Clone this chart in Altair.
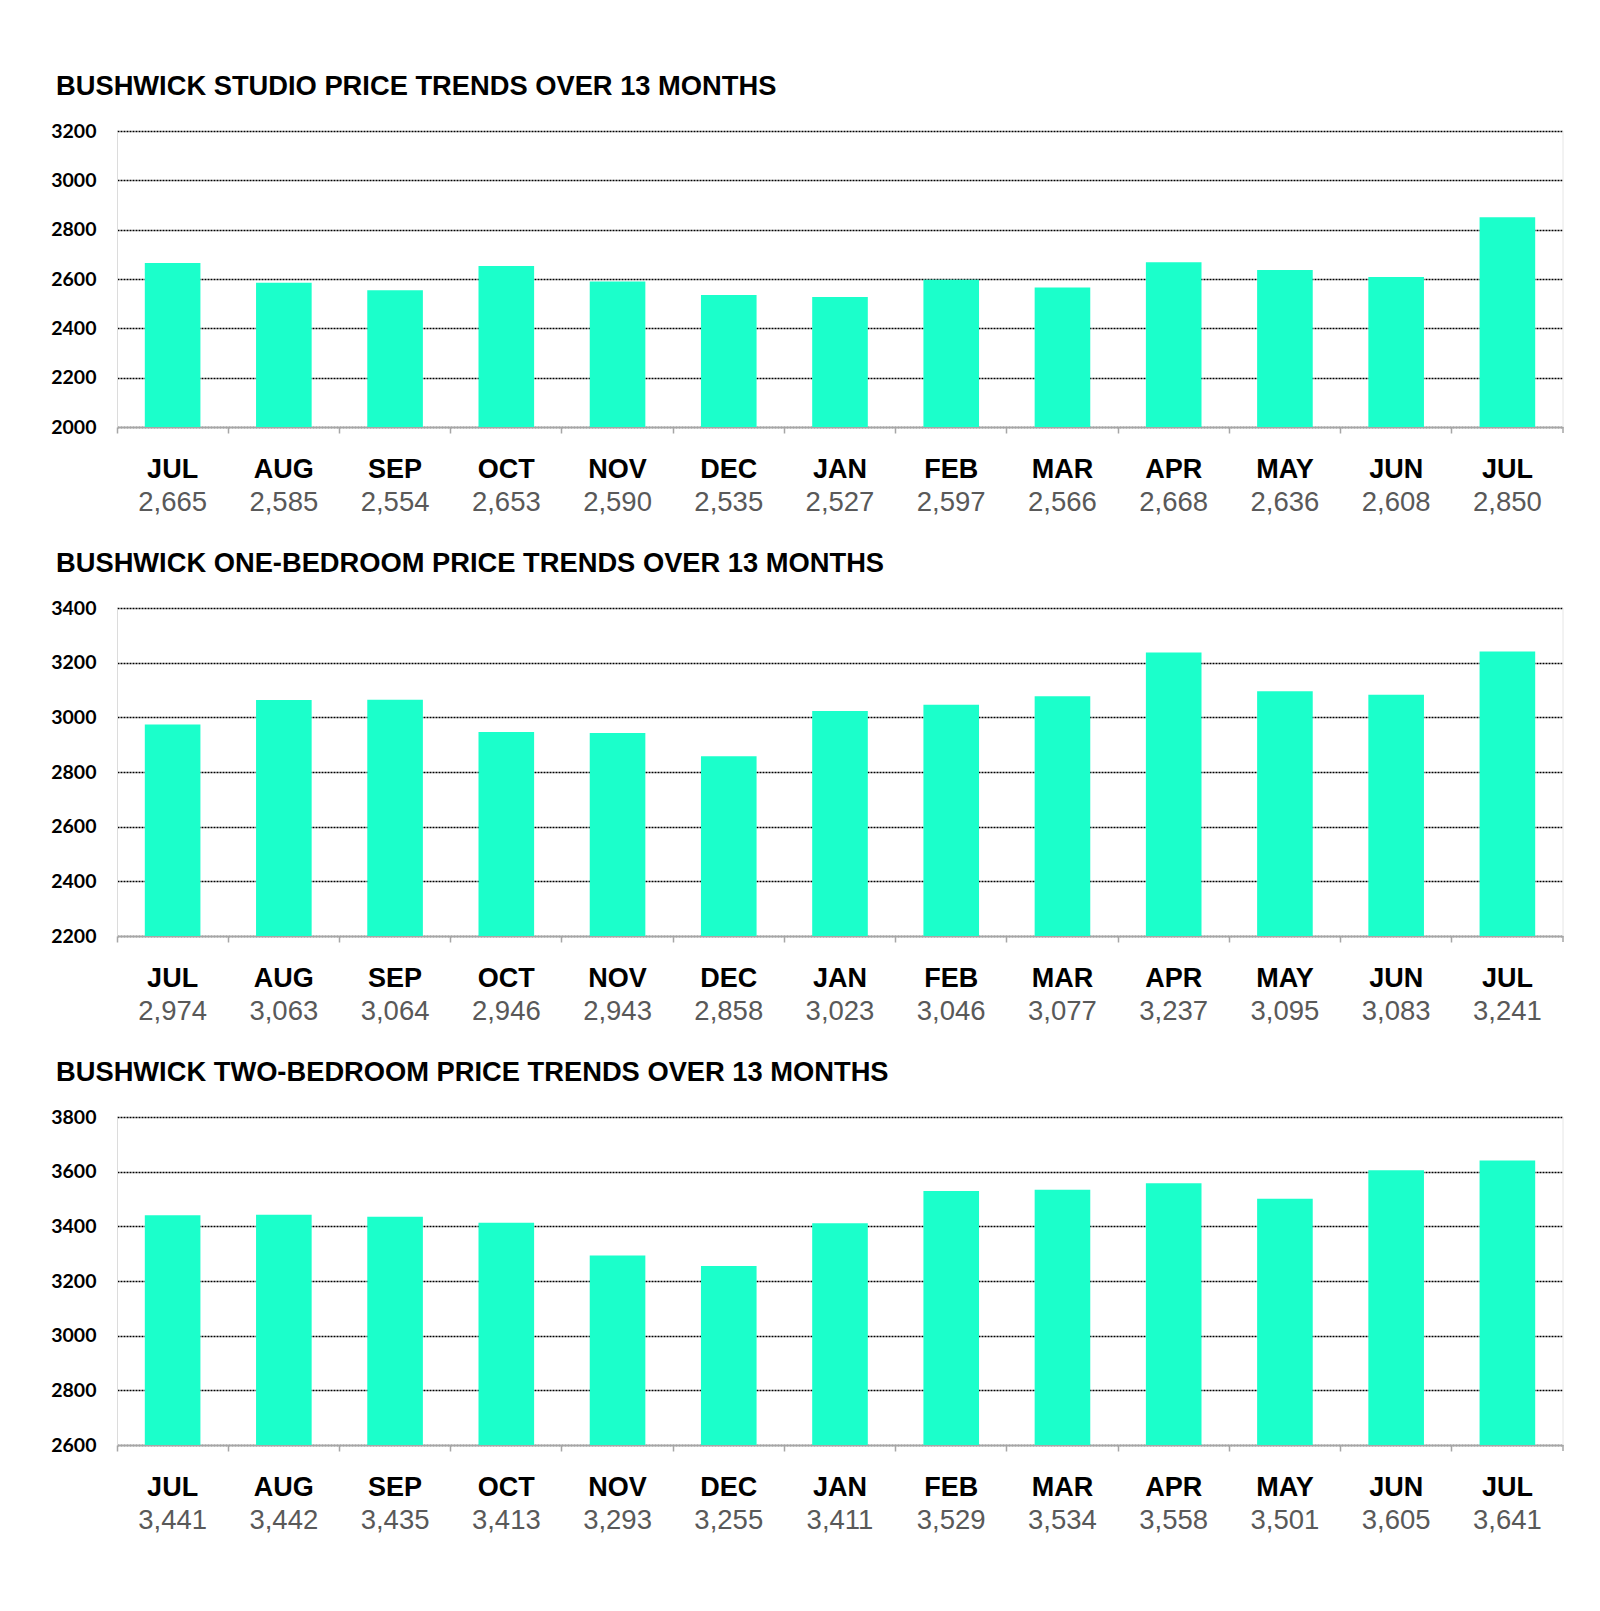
import altair as alt
import pandas as pd

months = ["JUL", "AUG", "SEP", "OCT", "NOV", "DEC", "JAN", "FEB", "MAR", "APR", "MAY", "JUN", "JUL"]
studio = [2665, 2585, 2554, 2653, 2590, 2535, 2527, 2597, 2566, 2668, 2636, 2608, 2850]
one_bed = [2974, 3063, 3064, 2946, 2943, 2858, 3023, 3046, 3077, 3237, 3095, 3083, 3241]
two_bed = [3441, 3442, 3435, 3413, 3293, 3255, 3411, 3529, 3534, 3558, 3501, 3605, 3641]

titles = [
    "BUSHWICK STUDIO PRICE TRENDS OVER 13 MONTHS",
    "BUSHWICK ONE-BEDROOM PRICE TRENDS OVER 13 MONTHS",
    "BUSHWICK TWO-BEDROOM PRICE TRENDS OVER 13 MONTHS",
]
y_domains = [[2000, 3200], [2200, 3400], [2600, 3800]]
heights = [296, 328, 328]

W = 1446
BAR = "#1BFFCB"
keys = [f"{m}_{i}" for i, m in enumerate(months)]


def panel(values, title, dom, h):
    df = pd.DataFrame({"key": keys, "month": months, "value": values})
    x = alt.X("key:N", sort=keys, scale=alt.Scale(paddingInner=0, paddingOuter=0),
              axis=alt.Axis(labels=False, title=None, grid=False, bandPosition=0,
                            domainColor="#a6a6a6", domainWidth=1.5,
                            tickColor="#a6a6a6", tickSize=6, tickWidth=1.5))
    ticks = list(range(dom[0], dom[1] + 1, 200))
    y = alt.Y("value:Q", scale=alt.Scale(domain=dom, nice=False, zero=False),
              axis=alt.Axis(values=ticks, title=None, ticks=False, format="d",
                            domainColor="#dcdcdc", domainWidth=1,
                            labelFont="Lato", labelFontWeight="bold", labelFontSize=19.5,
                            labelColor="#000000", labelPadding=21,
                            grid=True, gridColor="#000000", gridDash=[2, 1], gridWidth=1.3))
    base = alt.Chart(df)
    bars = base.mark_bar(color=BAR, width=alt.RelativeBandSize(0.5), clip=True).encode(x=x, y=y)
    mlab = base.mark_text(font="Liberation Sans", fontWeight="bold", fontSize=27,
                          color="#000000", baseline="middle").encode(
        x=alt.X("key:N", sort=keys), y=alt.value(h + 43), text="month:N")
    vlab = base.mark_text(font="Liberation Sans", fontSize=27.5,
                          color="#595959", baseline="middle").encode(
        x=alt.X("key:N", sort=keys), y=alt.value(h + 76), text=alt.Text("value:Q", format=","))
    tdf = pd.DataFrame({"t": [title]})
    ttl = alt.Chart(tdf).mark_text(font="Liberation Sans", fontWeight="bold", fontSize=27.3,
                                   color="#000000", align="left", baseline="alphabetic").encode(
        x=alt.value(-61), y=alt.value(-35.7), text="t:N")
    edge = alt.Chart(tdf).mark_rule(color="#e6e6e6", strokeWidth=1).encode(
        x=alt.value(W), y=alt.value(0), y2=alt.value(h))
    endtick = alt.Chart(tdf).mark_rule(color="#a6a6a6", strokeWidth=1.5).encode(
        x=alt.value(W), y=alt.value(h), y2=alt.value(h + 6))
    return alt.layer(bars, edge, endtick, mlab, vlab, ttl).properties(width=W, height=h)


chart = alt.vconcat(
    panel(studio, titles[0], y_domains[0], heights[0]),
    panel(one_bed, titles[1], y_domains[1], heights[1]),
    panel(two_bed, titles[2], y_domains[2], heights[2]),
    spacing=181, bounds="flush",
).properties(
    padding={"left": 42, "top": 65, "right": 5, "bottom": 5},
    background="#ffffff",
).configure_view(stroke=None)

chart.save("out.html", embed_options={"renderer": "svg", "actions": False})
